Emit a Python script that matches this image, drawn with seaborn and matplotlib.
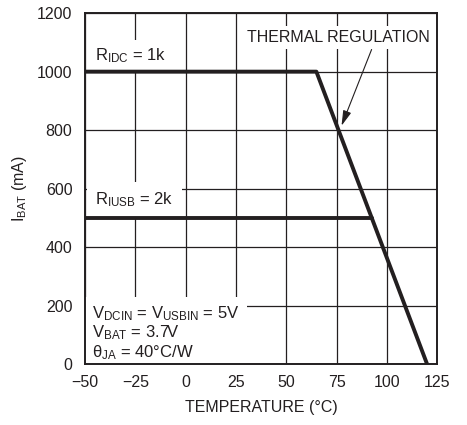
import pandas as pd
import matplotlib.pyplot as plt
import seaborn as sns

# charge current vs temperature
idcTemp = [-50, 65, 120]
idcCurrent = [1000, 1000, 0]
iusbTemp = [-50, 92.5]
iusbCurrent = [500, 500]

xTicks = [-50, -25, 0, 25, 50, 75, 100, 125]
yTicks = [0, 200, 400, 600, 800, 1000, 1200]

sns.set_style("white")
plt.rcParams['font.family'] = ['Liberation Sans', 'DejaVu Sans']
plt.rcParams['mathtext.default'] = 'regular'

df = pd.concat([
    pd.DataFrame({'temp': idcTemp, 'current': idcCurrent, 'curve': 'RIDC'}),
    pd.DataFrame({'temp': iusbTemp, 'current': iusbCurrent, 'curve': 'RIUSB'}),
])

fig = plt.figure(figsize=(4.67, 4.25), dpi=100)
ax = fig.add_axes([0.182, 0.1435, 0.754, 0.8255])

sns.lineplot(data=df, x='temp', y='current', units='curve', estimator=None,
             color='#231f20', linewidth=2.8, sort=False, ax=ax, zorder=3)

ax.set_xlim(-50, 125)
ax.set_ylim(0, 1200)
ax.set_xticks(xTicks)
ax.set_yticks(yTicks)
ax.grid(True, color='#231f20', linewidth=0.9)
ax.set_axisbelow(True)
for s in ax.spines.values():
    s.set_color('#231f20')
    s.set_linewidth(1.4)
    s.set_zorder(4)
ax.tick_params(axis='both', labelsize=11.5, length=0, colors='#231f20')
ax.tick_params(axis='x', pad=8)
ax.tick_params(axis='y', pad=9)

ax.set_xlabel('TEMPERATURE (°C)', fontsize=11.5, color='#231f20', labelpad=7)
ax.set_ylabel('I$_{BAT}$ (mA)', fontsize=11.5, color='#231f20', labelpad=6)

ax.text(-45, 1040, 'R$_{IDC}$ = 1k', fontsize=12, color='#231f20',
        bbox=dict(facecolor='white', edgecolor='none', pad=4), zorder=1.5)
ax.text(-45, 545, 'R$_{IUSB}$ = 2k', fontsize=12, color='#231f20',
        bbox=dict(facecolor='white', edgecolor='none', pad=6), zorder=1.5)
ax.text(-46.5, 8, 'V$_{DCIN}$ = V$_{USBIN}$ = 5V\nV$_{BAT}$ = 3.7V\nθ$_{JA}$ = 40°C/W',
        fontsize=12, color='#231f20', linespacing=1.05, va='bottom',
        bbox=dict(facecolor='white', edgecolor='none', pad=5), zorder=1.5)

ax.annotate('THERMAL REGULATION', xy=(77.5, 815), xytext=(76, 1090),
            fontsize=11.5, color='#231f20', ha='center', va='bottom',
            bbox=dict(facecolor='white', edgecolor='none', pad=3), zorder=1.5,
            arrowprops=dict(arrowstyle='-|>,head_length=0.8,head_width=0.22',
                            color='#231f20', lw=0.8, shrinkA=0, shrinkB=0,
                            relpos=(0.69, 0.0)))

plt.savefig('out.png', dpi=100)
plt.close()
